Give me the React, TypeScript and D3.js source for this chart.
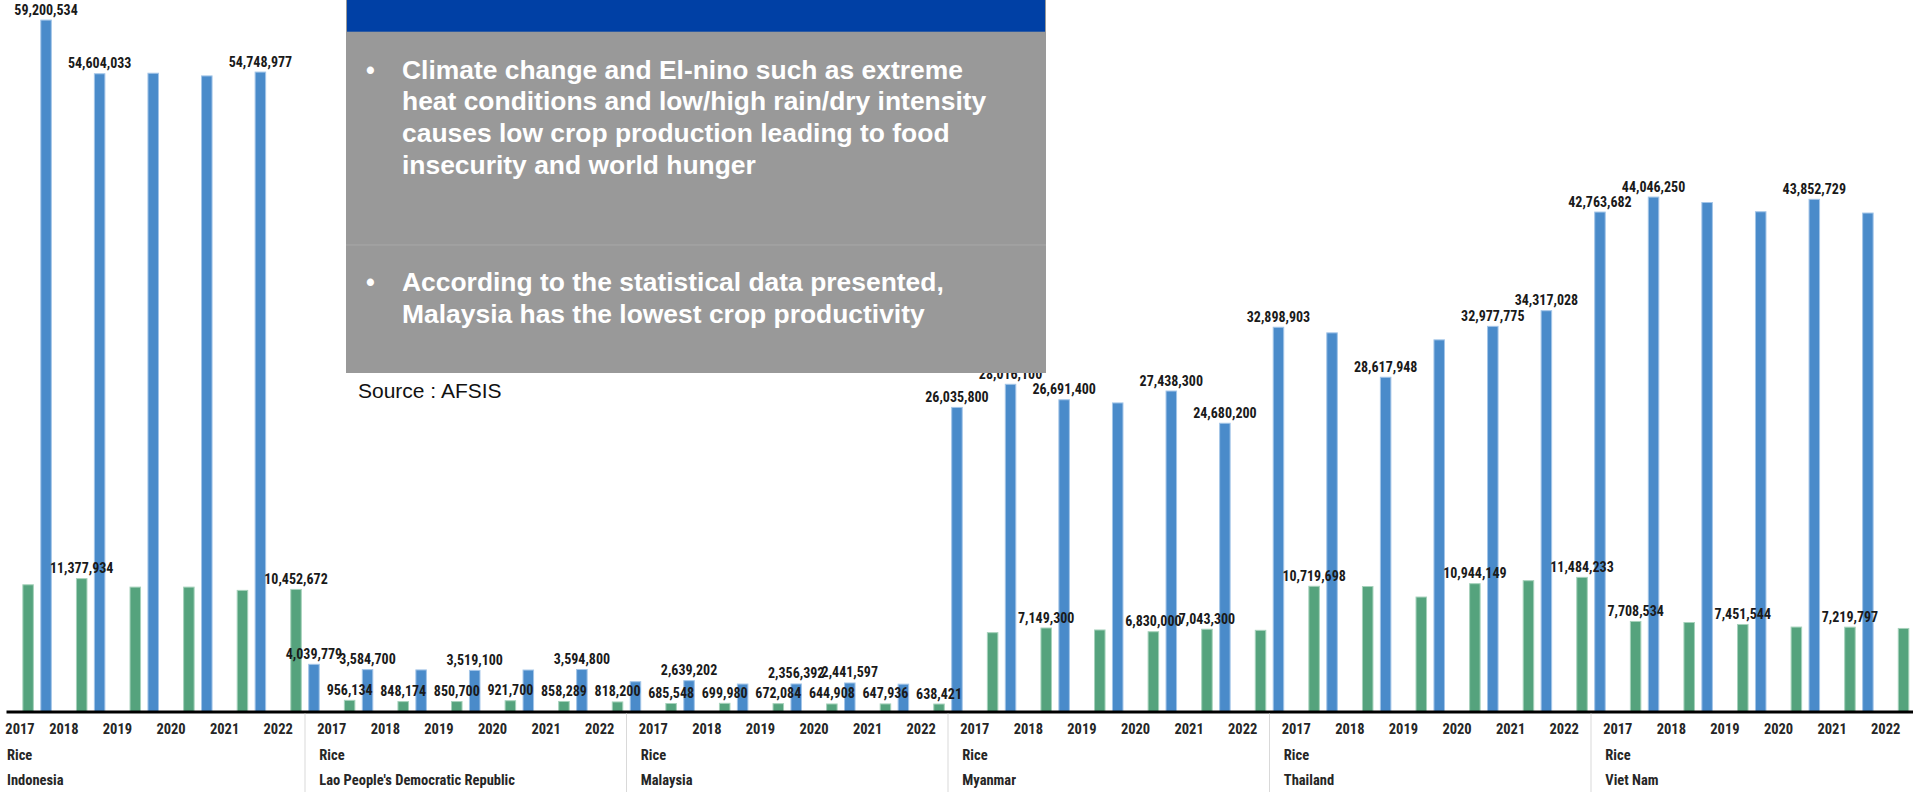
import { useEffect, useRef } from "react";
import * as d3 from "d3";

// Countries, crop and years of the category axis
const countries = ["Indonesia", "Lao People's Democratic Republic", "Malaysia", "Myanmar", "Thailand", "Viet Nam"];
const crop = "Rice";
const years = ["2017", "2018", "2019", "2020", "2021", "2022"];

// Production (blue), one list per country, 2017..2022 (Indonesia 2017 is cut off in the picture)
const prodIndonesia = [null, 59200534, 54604033, 54650000, 54420000, 54748977];
const prodLao = [4039779, 3584700, 3560000, 3519100, 3550000, 3594800];
const prodMalaysia = [2550000, 2639202, 2350000, 2356392, 2441597, 2340000];
const prodMyanmar = [26035800, 28016100, 26691400, 26420000, 27438300, 24680200];
const prodThailand = [32898903, 32420000, 28617948, 31820000, 32977775, 34317028];
const prodVietNam = [42763682, 44046250, 43580000, 42790000, 43852729, 42680000];

// Harvested area (green)
const areaIndonesia = [10850000, 11377934, 10650000, 10650000, 10370000, 10452672];
const areaLao = [956134, 848174, 850700, 921700, 858289, 818200];
const areaMalaysia = [685548, 699980, 672084, 644908, 647936, 638421];
const areaMyanmar = [6750000, 7149300, 6980000, 6830000, 7043300, 6950000];
const areaThailand = [10719698, 10700000, 9800000, 10944149, 11200000, 11484233];
const areaVietNam = [7708534, 7620000, 7451544, 7230000, 7219797, 7110000];

// Which bars carry a data label (1 = shown)
const prodLabels = [
  [0, 1, 1, 0, 0, 1],
  [1, 1, 0, 1, 0, 1],
  [0, 1, 0, 1, 1, 0],
  [1, 1, 1, 0, 1, 1],
  [1, 0, 1, 0, 1, 1],
  [1, 1, 0, 0, 1, 0],
];
const areaLabels = [
  [0, 1, 0, 0, 0, 1],
  [1, 1, 1, 1, 1, 1],
  [1, 1, 1, 1, 1, 1],
  [0, 1, 0, 1, 1, 0],
  [1, 0, 0, 1, 0, 1],
  [1, 0, 1, 0, 1, 0],
];

// Text of the overlay box
const bulletOne = [
  "Climate change and El-nino such as extreme",
  "heat conditions and low/high rain/dry intensity",
  "causes low crop production leading to food",
  "insecurity and world hunger",
];
const bulletTwo = [
  "According to the statistical data presented,",
  "Malaysia has the lowest crop productivity",
];
const sourceText = "Source : AFSIS";

const production = [prodIndonesia, prodLao, prodMalaysia, prodMyanmar, prodThailand, prodVietNam];
const area = [areaIndonesia, areaLao, areaMalaysia, areaMyanmar, areaThailand, areaVietNam];

const width = 1913;
const height = 792;
const baseY = 711.5;

const narrow = "'Liberation Sans Narrow', 'Arial Narrow', 'Roboto Condensed', 'DejaVu Sans Condensed', sans-serif";
const arial = "'Liberation Sans', Arial, sans-serif";

const drawChart = (node: SVGSVGElement) => {
  const svg = d3.select(node);
  svg.selectAll("*").remove();

  const rows = countries.flatMap((country, ci) =>
    years.map((year, yi) => ({
      key: `${country}|${year}`,
      ci,
      yi,
      year,
      production: production[ci][yi],
      area: area[ci][yi],
      showProd: prodLabels[ci][yi] === 1,
      showArea: areaLabels[ci][yi] === 1,
    }))
  );

  // Category scale (the chart is cropped on both sides)
  const x0 = d3.scaleBand<string>()
    .domain(rows.map(d => d.key))
    .range([-16.5, 1912.5]);

  // Series inside one category: production, yield (not visible), area
  const x1 = d3.scaleBand<string>()
    .domain(["production", "yield", "area"])
    .range([0, x0.bandwidth()])
    .paddingInner(0.354)
    .paddingOuter(0.18);

  const y = d3.scaleLinear()
    .domain([0, 60.92e6])
    .range([baseY, 0]);

  const fmt = d3.format(",");

  const g = svg.append("g");

  // Blue bars
  g.selectAll("rect.prod")
    .data(rows.filter(d => d.production != null))
    .join("rect")
    .attr("class", "prod")
    .attr("x", d => (x0(d.key) ?? 0) + (x1("production") ?? 0) + 0.5)
    .attr("y", d => y(d.production as number))
    .attr("width", x1.bandwidth() - 1)
    .attr("height", d => baseY - y(d.production as number))
    .attr("fill", "#4a8bca")
    .attr("stroke", "#a3c5e8")
    .attr("stroke-width", 1);

  // Green bars
  g.selectAll("rect.area")
    .data(rows)
    .join("rect")
    .attr("class", "area")
    .attr("x", d => (x0(d.key) ?? 0) + (x1("area") ?? 0) + 0.5)
    .attr("y", d => y(d.area))
    .attr("width", x1.bandwidth() - 1)
    .attr("height", d => baseY - y(d.area))
    .attr("fill", "#55a37d")
    .attr("stroke", "#a6d2bb")
    .attr("stroke-width", 1);

  // Data labels
  const labels = svg.append("g")
    .attr("font-family", narrow)
    .attr("font-weight", "bold")
    .attr("font-size", 14)
    .attr("text-anchor", "middle")
    .attr("fill", "#1a1a1a");

  labels.selectAll("text.lp")
    .data(rows.filter(d => d.showProd && d.production != null))
    .join("text")
    .attr("class", "lp")
    .attr("x", d => (x0(d.key) ?? 0) + (x1("production") ?? 0) + x1.bandwidth() / 2)
    .attr("y", d => y(d.production as number) - 5.5)
    .text(d => fmt(d.production as number));

  labels.selectAll("text.la")
    .data(rows.filter(d => d.showArea))
    .join("text")
    .attr("class", "la")
    .attr("x", d => (x0(d.key) ?? 0) + (x1("area") ?? 0) + x1.bandwidth() / 2)
    .attr("y", d => y(d.area) - 5.5)
    .text(d => fmt(d.area));

  // Axis line
  svg.append("line")
    .attr("x1", 6.5)
    .attr("x2", width)
    .attr("y1", baseY + 0.5)
    .attr("y2", baseY + 0.5)
    .attr("stroke", "#000")
    .attr("stroke-width", 3);

  // Group separators under the axis
  svg.append("g")
    .selectAll("line")
    .data(countries.slice(1))
    .join("line")
    .attr("x1", c => x0(`${c}|${years[0]}`) ?? 0)
    .attr("x2", c => x0(`${c}|${years[0]}`) ?? 0)
    .attr("y1", baseY + 2)
    .attr("y2", height)
    .attr("stroke", "#d9d9d9")
    .attr("stroke-width", 1);

  // Multi-level category labels
  const axis = svg.append("g")
    .attr("font-family", narrow)
    .attr("font-weight", "bold")
    .attr("fill", "#262626");

  axis.selectAll("text.year")
    .data(rows)
    .join("text")
    .attr("class", "year")
    .attr("font-size", 14.5)
    .attr("text-anchor", "middle")
    .attr("x", d => Math.max((x0(d.key) ?? 0) + x0.bandwidth() / 2, 20))
    .attr("y", 734)
    .text(d => d.year);

  const groupX = (c: string) => Math.max((x0(`${c}|${years[0]}`) ?? 0) + x0.bandwidth() / 2 - 12.5, 7);

  axis.selectAll("text.crop")
    .data(countries)
    .join("text")
    .attr("class", "crop")
    .attr("font-size", 14.5)
    .attr("x", groupX)
    .attr("y", 760)
    .text(crop);

  axis.selectAll("text.country")
    .data(countries)
    .join("text")
    .attr("class", "country")
    .attr("font-size", 14.5)
    .attr("x", groupX)
    .attr("y", 785)
    .text(c => c);

  // Overlay text box
  const box = svg.append("g");
  box.append("rect")
    .attr("x", 346).attr("y", 0)
    .attr("width", 700).attr("height", 373)
    .attr("fill", "#999999");
  box.append("rect")
    .attr("x", 347).attr("y", 0)
    .attr("width", 698).attr("height", 31.7)
    .attr("fill", "#0040a5");
  box.append("line")
    .attr("x1", 346).attr("x2", 1046)
    .attr("y1", 245).attr("y2", 245)
    .attr("stroke", "#a8a8a8");

  const bullets = [
    { lines: bulletOne, top: 78.5 },
    { lines: bulletTwo, top: 291 },
  ];
  bullets.forEach(b => {
    box.append("text")
      .attr("x", 370.5)
      .attr("y", b.top)
      .attr("text-anchor", "middle")
      .attr("font-family", arial)
      .attr("font-size", 25)
      .attr("font-weight", "bold")
      .attr("fill", "#fff")
      .text("•");
    // the slide text is a little wider than plain Arial, so stretch it
    box.append("g")
      .selectAll("text")
      .data(b.lines)
      .join("text")
      .attr("transform", (_, i) => `translate(402,${b.top + i * 31.7}) scale(1.057,1)`)
      .attr("font-family", arial)
      .attr("font-size", 25)
      .attr("font-weight", "bold")
      .attr("fill", "#fff")
      .text(d => d);
  });

  svg.append("text")
    .attr("x", 358)
    .attr("y", 398)
    .attr("font-family", arial)
    .attr("font-size", 21)
    .attr("fill", "#111")
    .text(sourceText);
};

export default function App() {
  const ref = useRef<SVGSVGElement>(null);

  useEffect(() => {
    document.body.style.margin = "0";
    if (ref.current) drawChart(ref.current);
  }, []);

  return (
    <svg
      ref={ref}
      width={width}
      height={height}
      style={{ position: "fixed", left: 0, top: 0, display: "block", background: "#fff" }}
    />
  );
}
